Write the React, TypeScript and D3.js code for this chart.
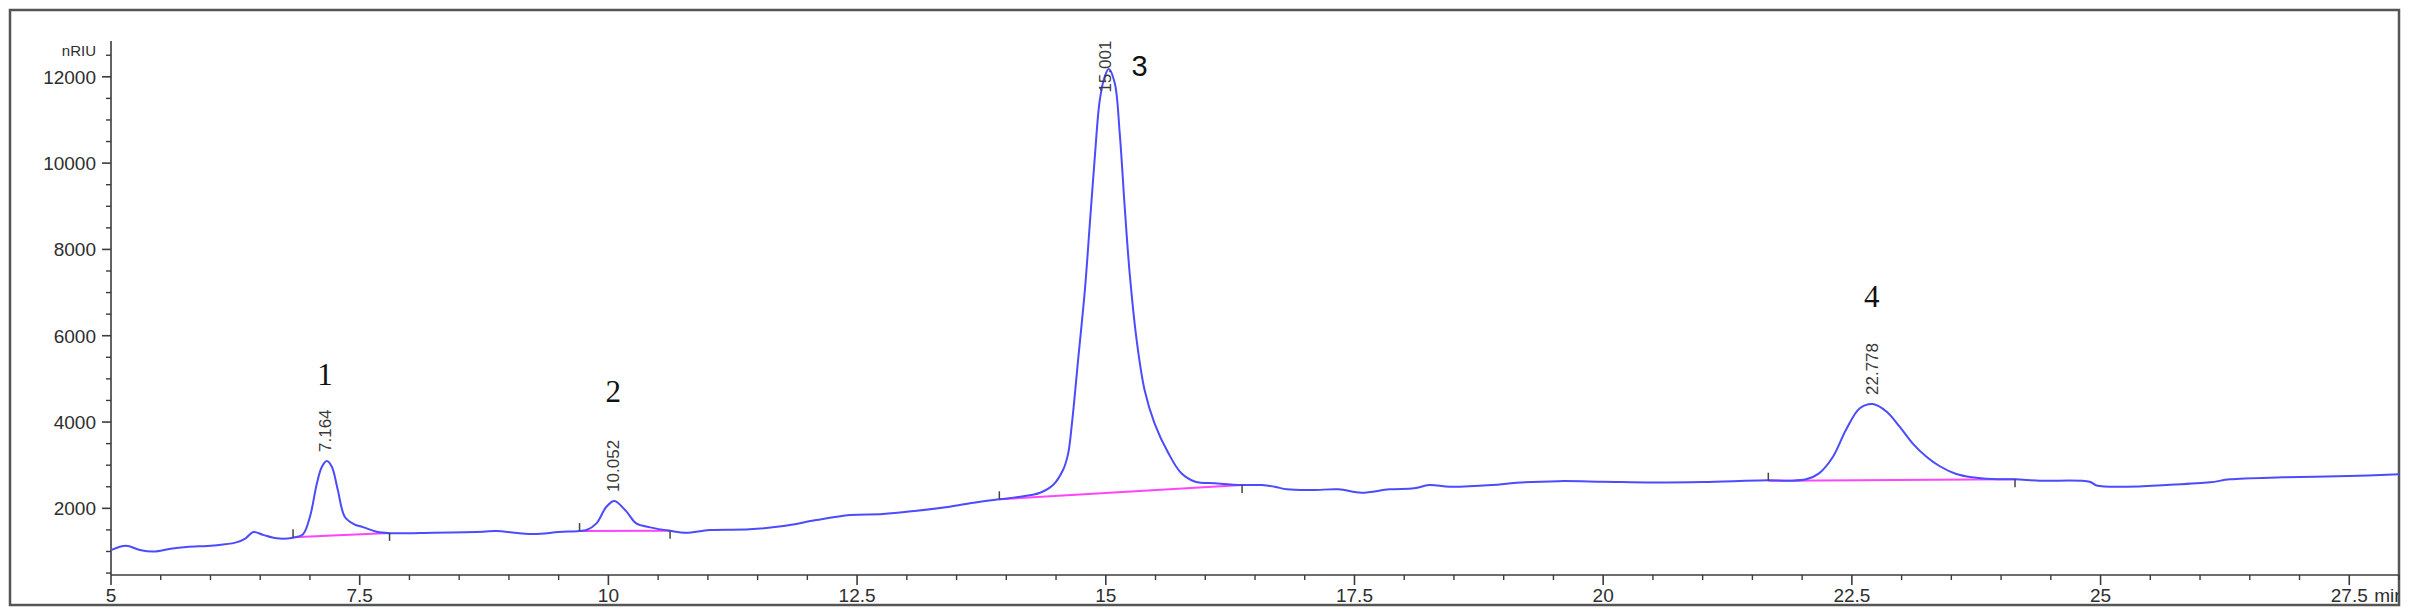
import React from "react";
import * as d3 from "d3";

// ---- Data ----
const times = [
  5.0, 5.15, 5.29, 5.43, 5.6, 5.76, 6.03, 6.25, 6.35, 6.43, 6.53, 6.665, 6.83, 6.93,
  7.0, 7.07, 7.12, 7.17, 7.22, 7.28, 7.35, 7.44, 7.54, 7.67, 7.8, 8.24, 8.74, 8.87,
  9.245, 9.5, 9.71, 9.78, 9.88, 9.98, 10.06, 10.18, 10.28, 10.42, 10.62, 10.78, 11.02,
  11.42, 11.76, 12.09, 12.43, 12.76, 13.1, 13.43, 13.67, 13.93, 14.14, 14.34, 14.47,
  14.57, 14.62, 14.66, 14.725, 14.79, 14.84, 14.89, 14.94, 14.99, 15.03, 15.09, 15.14,
  15.19, 15.24, 15.31, 15.39, 15.49, 15.63, 15.76, 15.9, 16.1, 16.37, 16.57, 16.7,
  16.82, 17.08, 17.34, 17.57, 17.85, 18.1, 18.25, 18.46, 18.88, 19.13, 19.55, 20.0,
  20.5, 21.0, 21.66, 21.87, 22.04, 22.17, 22.31, 22.44, 22.58, 22.71, 22.85, 22.98,
  23.11, 23.25, 23.38, 23.55, 23.71, 23.91, 24.14, 24.39, 24.89, 24.96, 25.26, 25.66,
  26.1, 26.3, 26.83, 27.5, 28.0,
];
const signal = [
  1030, 1130, 1035, 1000, 1065, 1105, 1140, 1205, 1300, 1450, 1385, 1305, 1320, 1400,
  1805, 2580, 2965, 3097, 2965, 2424, 1805, 1636, 1559, 1457, 1425, 1434, 1457, 1474,
  1404, 1450, 1474, 1497, 1652, 2037, 2172, 1930, 1650, 1559, 1478, 1434, 1497,
  1513, 1590, 1729, 1845, 1868, 1945, 2037, 2130, 2209, 2269, 2362, 2540,
  2888, 3250, 3971, 5515, 7061, 8608, 10152, 11467, 12007, 12180, 11854, 10695,
  8993, 7449, 5902, 4743, 3971, 3275, 2812, 2617, 2580, 2540, 2540, 2500,
  2440, 2424, 2440, 2362, 2440, 2463, 2540, 2500, 2540, 2593, 2630, 2617,
  2600, 2610, 2650, 2640, 2672, 2811, 3196, 3815, 4318, 4418, 4240, 3892,
  3507, 3196, 2981, 2795, 2719, 2679, 2672, 2640, 2617, 2530, 2501, 2540,
  2602, 2672, 2719, 2749, 2788,
];

// Peak integration baselines
const baseStartT = [6.83, 9.71, 13.93, 21.66];
const baseStartV = [1328, 1474, 2209, 2640];
const baseEndT = [7.8, 10.62, 16.37, 24.14];
const baseEndV = [1430, 1478, 2540, 2672];

// Peak annotations
const peakApexT = [7.15, 10.05, 14.99, 22.7];
const peakApexV = [3097, 2172, 12180, 4418];
const rtLabels = ["7.164", "10.052", "15.001", "22.778"];
const peakNumbers = ["1", "2", "3", "4"];
const peakNumT = [7.15, 10.05, 15.34, 22.7];
const peakNumV = [4857, 4470, 12016, 6671];
const peakNumSerif = [true, true, false, true];

// Axes
const xMajor = [5, 7.5, 10, 12.5, 15, 17.5, 20, 22.5, 25, 27.5];
const xMajorLabels = ["5", "7.5", "10", "12.5", "15", "17.5", "20", "22.5", "25", "27.5"];
const yMajor = [2000, 4000, 6000, 8000, 10000, 12000];
const yMajorLabels = ["2000", "4000", "6000", "8000", "10000", "12000"];
const xUnit = "min";
const yUnit = "nRIU";

const W = 2410;
const H = 616;
const SANS = "'Liberation Sans', Arial, Helvetica, sans-serif";
const SERIF = "'Liberation Serif', 'Times New Roman', serif";

export default function App() {
  const left = 111;
  const right = 2399;
  const top = 41;
  const bottom = 575;
  const x = d3.scaleLinear().domain([5, 28]).range([left, right]);
  const y = d3.scaleLinear().domain([455, 12830]).range([bottom, top]);

  const line = d3
    .line<number>()
    .x((_, i) => x(times[i]))
    .y((d) => y(d))
    .curve(d3.curveCatmullRom.alpha(0.5));

  const xMinor = d3.range(5, 28.01, 0.5).filter((t) => !xMajor.some((m) => Math.abs(m - t) < 1e-6));
  const yMinor = d3.range(500, 12501, 500).filter((v) => !yMajor.includes(v));

  const axisColor = "#3c3c3c";
  const textColor = "#2e2e2e";

  return (
    <svg
      width={W}
      height={H}
      style={{ position: "absolute", left: 0, top: 0, background: "#fff" }}
      xmlns="http://www.w3.org/2000/svg"
    >
      <defs>
        <clipPath id="frameClip">
          <rect x={10} y={10} width={right - 10} height={595} />
        </clipPath>
      </defs>
      <rect x={0} y={0} width={W} height={H} fill="#fff" />
      {/* outer frame */}
      <rect x={10} y={10} width={right - 10} height={595} fill="none" stroke="#555" strokeWidth={2.5} />

      {/* y axis */}
      <line x1={left} x2={left} y1={top} y2={bottom} stroke={axisColor} strokeWidth={1.6} />
      {yMinor.map((v) => (
        <line key={"ym" + v} x1={left - 5} x2={left} y1={y(v)} y2={y(v)} stroke={axisColor} strokeWidth={1.4} />
      ))}
      {yMajor.map((v, i) => (
        <g key={"yM" + v}>
          <line x1={left - 9} x2={left} y1={y(v)} y2={y(v)} stroke={axisColor} strokeWidth={1.6} />
          <text
            x={left - 15}
            y={y(v)}
            dy="0.36em"
            textAnchor="end"
            fontFamily={SANS}
            fontSize={19}
            fill={textColor}
          >
            {yMajorLabels[i]}
          </text>
        </g>
      ))}
      <text x={left - 15} y={y(12830) + 15} textAnchor="end" fontFamily={SANS} fontSize={15} fill={textColor}>
        {yUnit}
      </text>

      {/* x axis */}
      <line x1={left} x2={right} y1={bottom} y2={bottom} stroke={axisColor} strokeWidth={1.6} />
      {xMinor.map((t) => (
        <line key={"xm" + t} x1={x(t)} x2={x(t)} y1={bottom} y2={bottom + 5} stroke={axisColor} strokeWidth={1.4} />
      ))}
      <g clipPath="url(#frameClip)">
        {xMajor.map((t, i) => (
          <g key={"xM" + t}>
            <line x1={x(t)} x2={x(t)} y1={bottom} y2={bottom + 10} stroke={axisColor} strokeWidth={1.6} />
            <text x={x(t)} y={bottom + 27} textAnchor="middle" fontFamily={SANS} fontSize={19} fill={textColor}>
              {xMajorLabels[i]}
            </text>
          </g>
        ))}
        <text x={x(27.5) + 25} y={bottom + 27} textAnchor="start" fontFamily={SANS} fontSize={19} fill={textColor}>
          {xUnit}
        </text>
      </g>

      {/* baselines */}
      {baseStartT.map((t, i) => (
        <line
          key={"bl" + i}
          x1={x(t)}
          y1={y(baseStartV[i])}
          x2={x(baseEndT[i])}
          y2={y(baseEndV[i])}
          stroke="#ff45ff"
          strokeWidth={2}
        />
      ))}

      {/* trace */}
      <path d={line(signal) || ""} fill="none" stroke="#4b4bff" strokeWidth={2} strokeLinejoin="round" />

      {/* baseline start / end markers */}
      {baseStartT.map((t, i) => (
        <g key={"mk" + i}>
          <line x1={x(t)} x2={x(t)} y1={y(baseStartV[i]) - 8} y2={y(baseStartV[i])} stroke="#444" strokeWidth={1.5} />
          <line
            x1={x(baseEndT[i])}
            x2={x(baseEndT[i])}
            y1={y(baseEndV[i])}
            y2={y(baseEndV[i]) + 8}
            stroke="#444"
            strokeWidth={1.5}
          />
        </g>
      ))}

      {/* retention time labels */}
      {rtLabels.map((lab, i) => {
        const px = x(peakApexT[i]);
        const textLen = lab.length * 8.6;
        const py = Math.max(y(peakApexV[i]) - 9, top + textLen);
        return (
          <text
            key={"rt" + i}
            transform={`translate(${px},${py}) rotate(-90)`}
            dy="0.36em"
            textAnchor="start"
            fontFamily={SANS}
            fontSize={17}
            fill="#3a3a3a"
          >
            {lab}
          </text>
        );
      })}

      {/* peak numbers */}
      {peakNumbers.map((n, i) => (
        <text
          key={"pn" + i}
          x={x(peakNumT[i])}
          y={y(peakNumV[i])}
          textAnchor="middle"
          fontFamily={peakNumSerif[i] ? SERIF : SANS}
          fontSize={peakNumSerif[i] ? 31 : 29}
          fill="#111"
        >
          {n}
        </text>
      ))}
    </svg>
  );
}
